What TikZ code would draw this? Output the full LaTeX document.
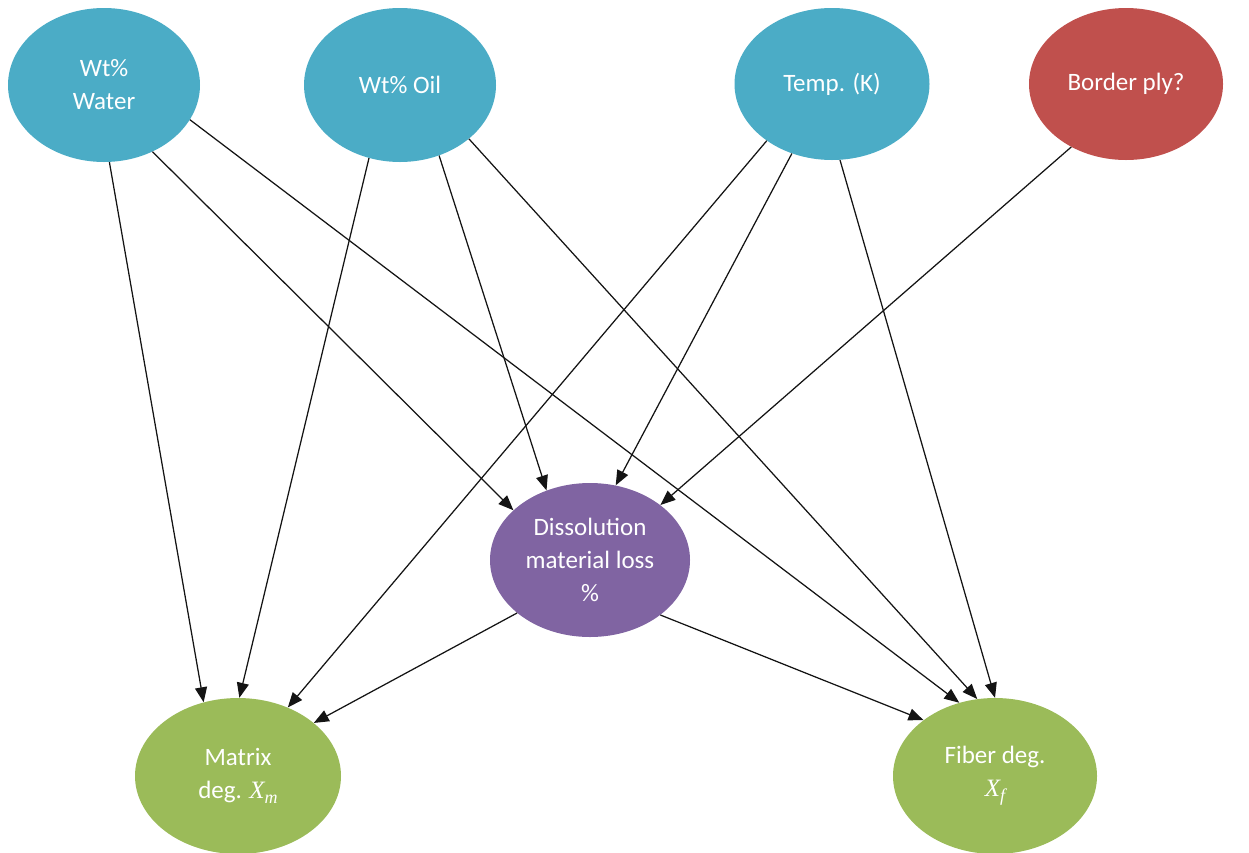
\documentclass[tikz,border=0pt]{standalone}
\usepackage{fontspec}
\setmainfont{Carlito}
\newfontfamily\lsfam{Liberation Serif}
\newcommand{\mvar}[2]{{\lsfam\itshape #1\raisebox{-5pt}{\fontsize{18}{18}\selectfont #2}}}
\usetikzlibrary{arrows.meta,shapes.geometric}
\definecolor{cblue}{RGB}{75,172,198}
\definecolor{cred}{RGB}{192,80,77}
\definecolor{cpurple}{RGB}{128,100,162}
\definecolor{cgreen}{RGB}{155,187,89}
\definecolor{cline}{RGB}{20,20,20}
\begin{document}
\begin{tikzpicture}[x=1pt,y=-1pt,
  blob/.style={ellipse,inner sep=0pt,text=white,align=center,
    font=\fontsize{25}{33}\selectfont},
  edge/.style={draw=cline,line width=1.25pt,-{Triangle[length=15pt,width=12pt]}}]
\useasboundingbox (0,0) rectangle (1249,852);
\node[blob,fill=cblue,minimum width=192pt,minimum height=154pt] (w) at (104,85) {Wt\%\\Water};
\node[blob,fill=cblue,minimum width=192pt,minimum height=154pt] (o) at (400,85) {Wt\% Oil};
\node[blob,fill=cblue,minimum width=195pt,minimum height=152pt] (t) at (832,84) {Temp. (K)};
\node[blob,fill=cred,minimum width=194pt,minimum height=152pt] (b) at (1126,84) {Border ply?};
\node[blob,fill=cpurple,minimum width=200pt,minimum height=154pt] (d) at (590,560) {Dissolution\\material loss\\\%};
\node[blob,fill=cgreen,minimum width=206pt,minimum height=156pt] (m) at (238,776) {Matrix\\deg. \mvar{X}{m}};
\node[blob,fill=cgreen,minimum width=204pt,minimum height=156pt] (f) at (995,776) {Fiber deg.\\\mvar{X}{f}};
\draw[edge] (w.-86.4) -- (m.115.6);
\draw[edge] (w.-54.2) -- (d.147.1);
\draw[edge] (w.-22.7) -- (f.116.8);
\draw[edge] (o.-113.3) -- (m.89.3);
\draw[edge] (o.-61) -- (d.122.3);
\draw[edge] (o.-38) -- (f.103.9);
\draw[edge] (t.-139.1) -- (m.54.8);
\draw[edge] (t.-120.4) -- (d.71.6);
\draw[edge] (t.-84.9) -- (f.90);
\draw[edge] (b.-131.9) -- (d.38.8);
\draw[edge] (d.-144) -- (m.35.8);
\draw[edge] (d.-38.7) -- (f.142.8);
\end{tikzpicture}
\end{document}
